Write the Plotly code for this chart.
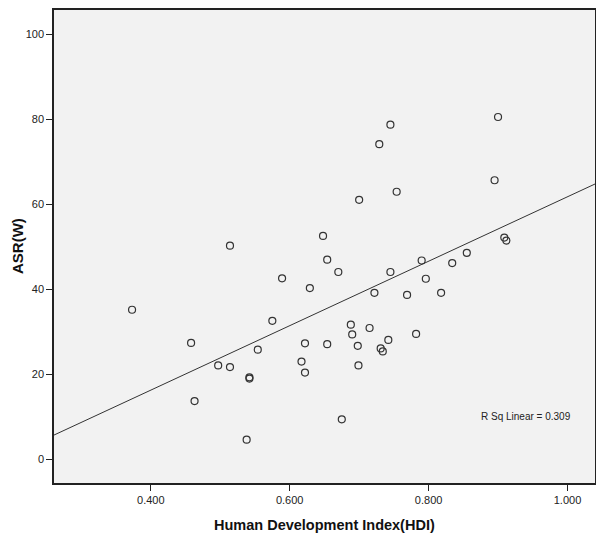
import numpy as np
import plotly.graph_objects as go

# HDI values (x) and ASR(W) values (y)
hdi = [0.373, 0.458, 0.463, 0.497, 0.514, 0.514, 0.538, 0.542, 0.542, 0.554,
       0.575, 0.589, 0.617, 0.622, 0.622, 0.629, 0.648, 0.654, 0.654, 0.670,
       0.675, 0.688, 0.690, 0.698, 0.699, 0.700, 0.715, 0.722, 0.729, 0.731,
       0.734, 0.742, 0.745, 0.745, 0.754, 0.769, 0.782, 0.790, 0.796, 0.818,
       0.834, 0.855, 0.895, 0.900, 0.909, 0.912]
asr = [35.2, 27.4, 13.7, 22.1, 21.7, 50.3, 4.6, 19.3, 19.0, 25.8,
       32.6, 42.6, 23.0, 27.3, 20.4, 40.3, 52.6, 47.0, 27.1, 44.1,
       9.4, 31.7, 29.4, 26.7, 22.1, 61.1, 30.9, 39.2, 74.2, 26.1,
       25.4, 28.1, 78.8, 44.1, 63.0, 38.7, 29.5, 46.8, 42.5, 39.2,
       46.2, 48.6, 65.7, 80.6, 52.2, 51.5]

x_range = [0.2606, 1.0396]
y_range = [-5.6, 105.8]
x_ticks = [0.4, 0.6, 0.8, 1.0]
x_ticklabels = ["0.400", "0.600", "0.800", "1.000"]
y_ticks = [0, 20, 40, 60, 80, 100]
r2_label = "R Sq Linear = 0.309"
x_title = "Human Development Index(HDI)"
y_title = "ASR(W)"

slope, intercept = np.polyfit(hdi, asr, 1)
line_x = np.array(x_range)
line_y = intercept + slope * line_x

FONT = "Liberation Sans, Arial, sans-serif"

fig = go.Figure()
fig.add_trace(go.Scatter(
    x=hdi, y=asr, mode="markers",
    marker=dict(symbol="circle-open", size=7, color="#333333",
                line=dict(width=1.2, color="#333333")),
    showlegend=False, hoverinfo="x+y"))
fig.add_trace(go.Scatter(
    x=line_x, y=line_y, mode="lines",
    line=dict(color="#333333", width=1), showlegend=False, hoverinfo="skip"))

fig.add_annotation(x=0.872, y=9.95, xref="x", yref="y", text=r2_label,
                   showarrow=False, xanchor="left", yanchor="middle",
                   font=dict(family=FONT, size=10, color="#222222"))

# axis titles as annotations for exact placement
fig.add_annotation(x=0.5, y=0, xref="paper", yref="paper", yshift=-42,
                   text="<b>" + x_title + "</b>", showarrow=False,
                   xanchor="center", yanchor="middle",
                   font=dict(family=FONT, size=14.5, color="#111111"))
fig.add_annotation(x=0, y=0.5, xref="paper", yref="paper", xshift=-36.5,
                   text="<b>" + y_title + "</b>", showarrow=False, textangle=-90,
                   xanchor="center", yanchor="middle",
                   font=dict(family=FONT, size=15, color="#111111"))

tickfont = dict(family=FONT, size=11, color="#222222")

fig.update_layout(
    width=596, height=535,
    margin=dict(l=54, r=1, t=10, b=52, autoexpand=False),
    paper_bgcolor="white", plot_bgcolor="#F2F2F2",
    xaxis=dict(range=x_range, tickvals=x_ticks, ticktext=x_ticklabels,
               showgrid=False, zeroline=False, showline=True, mirror=True,
               linecolor="#222222", linewidth=1.5, ticks="outside", ticklen=6,
               tickcolor="#222222", tickfont=tickfont, automargin=False),
    yaxis=dict(range=y_range, tickvals=y_ticks,
               showgrid=False, zeroline=False, showline=True, mirror=True,
               linecolor="#222222", linewidth=1.5, ticks="outside", ticklen=6,
               tickcolor="#222222", tickfont=tickfont, automargin=False),
)

fig.write_html("out.html",
               config={"displayModeBar": False},
               post_script="document.body.style.margin='0';document.body.style.padding='0';")
